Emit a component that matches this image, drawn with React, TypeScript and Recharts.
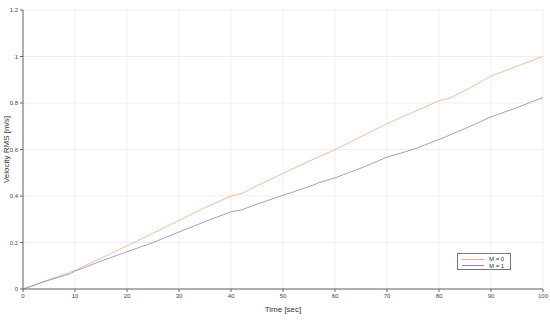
import { LineChart, Line, XAxis, YAxis, CartesianGrid, Legend } from 'recharts';

// Time [sec] samples and Velocity RMS readings for each case
const timeM0 = [0, 5, 8, 10, 15, 20, 25, 30, 35, 40, 42, 45, 50, 55, 60, 65, 70, 75, 80, 82, 85, 90, 95, 100];
const rmsM0 = [0, 0.04, 0.063, 0.08, 0.132, 0.186, 0.24, 0.295, 0.35, 0.4, 0.41, 0.444, 0.497, 0.55, 0.599, 0.655, 0.711, 0.76, 0.81, 0.82, 0.853, 0.916, 0.958, 1.0];

const timeM1 = [0, 5, 8, 9, 10, 12, 15, 20, 25, 30, 35, 40, 42, 45, 50, 55, 57, 60, 65, 70, 75, 80, 85, 90, 95, 100];
const rmsM1 = [0, 0.038, 0.058, 0.065, 0.077, 0.094, 0.12, 0.16, 0.2, 0.245, 0.29, 0.332, 0.34, 0.365, 0.403, 0.44, 0.458, 0.478, 0.52, 0.567, 0.6, 0.643, 0.69, 0.74, 0.78, 0.824];

const xTicks = [0, 10, 20, 30, 40, 50, 60, 70, 80, 90, 100];
const yTicks = [0, 0.2, 0.4, 0.6, 0.8, 1, 1.2];

const seriesM0 = timeM0.map((t, i) => ({ t, v: rmsM0[i] }));
const seriesM1 = timeM1.map((t, i) => ({ t, v: rmsM1[i] }));

const COLOR_M0 = '#efa985';
const COLOR_M1 = '#8e87b3';

const LegendBox = () => (
  <div
    style={{
      width: 54,
      height: 17,
      border: '1px solid #777',
      background: '#fff',
      fontSize: 6,
      fontFamily: 'Liberation Sans, Arial, sans-serif',
      color: '#333',
      boxSizing: 'border-box',
      padding: '2px 0 0 4px',
      lineHeight: '6.5px',
    }}
  >
    {[
      { name: 'M = 0', color: COLOR_M0 },
      { name: 'M = 1', color: COLOR_M1 },
    ].map((it) => (
      <div key={it.name} style={{ display: 'flex', alignItems: 'center' }}>
        <span style={{ display: 'inline-block', width: 22, height: 1, background: it.color, marginRight: 5 }} />
        <span>{it.name}</span>
      </div>
    ))}
  </div>
);

export default function App() {
  return (
    <div style={{ position: 'absolute', left: 0, top: 0, background: '#fff' }}>
      <LineChart
        width={550}
        height={331}
        margin={{ top: 10, right: 7, bottom: 0, left: 0 }}
        style={{ fontFamily: 'Liberation Sans, Arial, sans-serif' }}
      >
        <CartesianGrid stroke="#e8e8e8" strokeWidth={0.7} />
        <XAxis
          dataKey="t"
          type="number"
          domain={[0, 100]}
          ticks={xTicks}
          height={25}
          stroke="#666"
          tickSize={3}
          tick={{ fontSize: 6, fill: '#444' }}
          allowDuplicatedCategory={false}
          label={{ value: 'Time [sec]', position: 'insideBottom', offset: 2, fontSize: 8, fill: '#333' }}
        />
        <YAxis
          type="number"
          domain={[0, 1.2]}
          ticks={yTicks}
          width={23}
          stroke="#666"
          tickSize={3}
          tick={{ fontSize: 6, fill: '#444' }}
          label={{
            value: 'Velocity RMS [m/s]',
            angle: -90,
            position: 'insideLeft',
            offset: 6,
            fontSize: 8,
            fill: '#333',
            style: { textAnchor: 'middle' },
          }}
        />
        <Legend
          content={LegendBox}
          wrapperStyle={{ position: 'absolute', left: 457, top: 253, width: 54, bottom: 'auto' }}
        />
        <Line
          data={seriesM0}
          dataKey="v"
          name="M = 0"
          stroke={COLOR_M0}
          strokeWidth={0.8}
          dot={false}
          type="linear"
          isAnimationActive={false}
        />
        <Line
          data={seriesM1}
          dataKey="v"
          name="M = 1"
          stroke={COLOR_M1}
          strokeWidth={0.8}
          dot={false}
          type="linear"
          isAnimationActive={false}
        />
      </LineChart>
    </div>
  );
}
